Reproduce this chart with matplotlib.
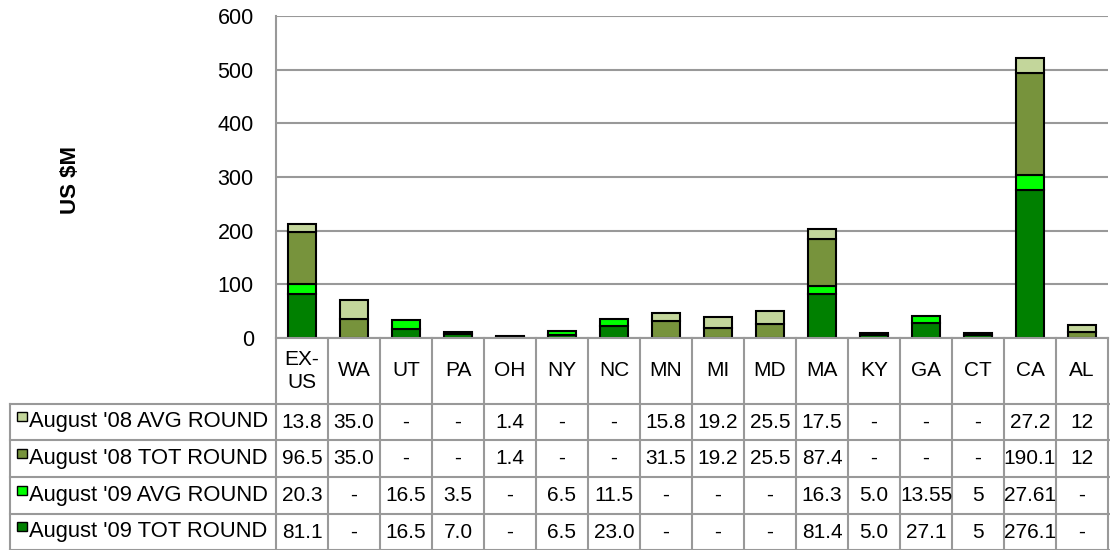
import matplotlib.pyplot as plt
from matplotlib.patches import Rectangle

plt.rcParams['font.family'] = ['Liberation Sans', 'DejaVu Sans']

states = ["EX-\nUS", "WA", "UT", "PA", "OH", "NY", "NC", "MN", "MI", "MD", "MA", "KY", "GA", "CT", "CA", "AL"]

# table strings as shown, "-" means no value
aug08_avg = ["13.8", "35.0", "-", "-", "1.4", "-", "-", "15.8", "19.2", "25.5", "17.5", "-", "-", "-", "27.2", "12"]
aug08_tot = ["96.5", "35.0", "-", "-", "1.4", "-", "-", "31.5", "19.2", "25.5", "87.4", "-", "-", "-", "190.1", "12"]
aug09_avg = ["20.3", "-", "16.5", "3.5", "-", "6.5", "11.5", "-", "-", "-", "16.3", "5.0", "13.55", "5", "27.61", "-"]
aug09_tot = ["81.1", "-", "16.5", "7.0", "-", "6.5", "23.0", "-", "-", "-", "81.4", "5.0", "27.1", "5", "276.1", "-"]

names = ["August '08 AVG ROUND", "August '08 TOT ROUND", "August '09 AVG ROUND", "August '09 TOT ROUND"]
colors = ["#C3D69B", "#77933C", "#00FF00", "#008000"]
rows = [aug08_avg, aug08_tot, aug09_avg, aug09_tot]


def num(s):
    return 0.0 if s == "-" else float(s)


W, H = 1110, 550
fig = plt.figure(figsize=(W / 100, H / 100), dpi=100)
ax_l, ax_r, ax_t, ax_b = 276, 1108, 16, 338
ax = fig.add_axes([ax_l / W, 1 - ax_b / H, (ax_r - ax_l) / W, (ax_b - ax_t) / H])

n = len(states)
x = list(range(n))
bottom = [0.0] * n
# stack from the bottom: '09 TOT, '09 AVG, '08 TOT, '08 AVG
for k in [3, 2, 1, 0]:
    vals = [num(s) for s in rows[k]]
    for i in range(n):
        if vals[i] > 0:
            ax.bar(x[i], vals[i], bottom=bottom[i], width=0.52, color=colors[k],
                   edgecolor="black", linewidth=1.5, zorder=3)
        bottom[i] += vals[i]

ax.set_xlim(-0.5, n - 0.5)
ax.set_ylim(0, 600)
ax.set_yticks(range(0, 601, 100))
ax.set_xticks([])
ax.tick_params(axis="y", length=0, pad=16, labelsize=15.5)
ax.yaxis.grid(True, color="#999999", linewidth=1.5, zorder=0)
for sp in ["top", "right"]:
    ax.spines[sp].set_visible(False)
ax.spines["left"].set_color("#999999")
ax.spines["left"].set_linewidth(1.5)
ax.spines["bottom"].set_color("#999999")
ax.spines["bottom"].set_linewidth(1.5)
ax.spines["bottom"].set_zorder(4)

fig.text(70 / W, 1 - 180 / H, "US $M", rotation=90, ha="center", va="center",
         fontsize=16, fontweight="bold")


# ---- data table under the chart ----
def ya(ypix):
    return (ax_b - ypix) / (ax_b - ax_t)


def xa(xpix):
    return (xpix - ax_l) / (ax_r - ax_l)


blend = ax.get_xaxis_transform()
line_kw = dict(color="#999999", linewidth=1.5, clip_on=False)
row_edges = [404, 440, 477, 514, 550]
header_mid = 371

for i in range(n + 1):
    ax.plot([i - 0.5, i - 0.5], [ya(338), ya(552)], transform=blend, **line_kw)
for yp in row_edges:
    ax.plot([xa(10), xa(1110)], [ya(yp), ya(yp)], transform=ax.transAxes, **line_kw)
ax.plot([xa(10), xa(10)], [ya(404), ya(552)], transform=ax.transAxes, **line_kw)

for i, s in enumerate(states):
    ax.text(i, ya(header_mid), s, transform=blend, ha="center", va="center",
            fontsize=15, linespacing=1.25, clip_on=False)

for r in range(4):
    yc = (row_edges[r] + row_edges[r + 1]) / 2
    ax.add_patch(Rectangle((xa(17), ya(yc - 1)), xa(27) - xa(17), ya(yc - 10) - ya(yc - 1),
                           transform=ax.transAxes, facecolor=colors[r], edgecolor="black",
                           linewidth=1.0, clip_on=False))
    ax.text(xa(29), ya(yc), names[r], transform=ax.transAxes, ha="left", va="center",
            fontsize=15.8, clip_on=False)
    for i in range(n):
        ax.text(i, ya(yc), rows[r][i], transform=blend, ha="center", va="center",
                fontsize=15, clip_on=False)

fig.savefig("out.png", dpi=100)
